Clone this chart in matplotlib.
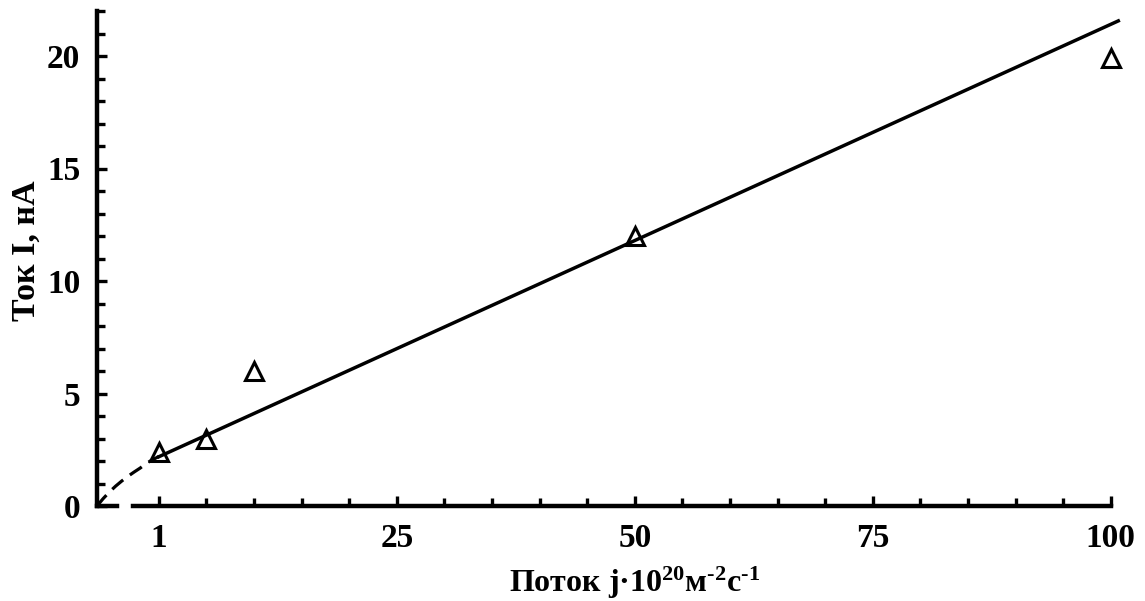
import numpy as np
import matplotlib
matplotlib.use("Agg")
import matplotlib.pyplot as plt
from matplotlib.ticker import FixedLocator

plt.rcParams['font.family'] = ['Liberation Serif', 'DejaVu Serif']
plt.rcParams['font.weight'] = 'bold'
plt.rcParams['mathtext.fontset'] = 'custom'
plt.rcParams['mathtext.rm'] = 'Liberation Serif:bold'
plt.rcParams['mathtext.default'] = 'rm'

# Measured points: flux j (10^20 m^-2 s^-1) and current I (nA)
flux = [1, 5, 10, 50, 100]
current = [2.4, 3.0, 6.0, 12.0, 19.9]

# Linear fit drawn from j = 1 onward
fit_flux = [1, 100.8]
fit_current = [2.19, 21.56]

# Extrapolation towards the origin (dashed)
extrap_flux = [0.0, 0.1, 0.2, 0.3, 0.4, 0.5, 0.6, 0.7, 0.8, 0.9, 1.0]
extrap_current = [0.0, 0.33, 0.62, 0.88, 1.11, 1.32, 1.51, 1.69, 1.90, 2.06, 2.2]

x_major = [1, 25, 50, 75, 100]
x_minor = [5, 10, 15, 20, 30, 35, 40, 45, 55, 60, 65, 70, 80, 85, 90, 95]
y_major = [0, 5, 10, 15, 20]
y_minor = [v for v in range(0, 23) if v % 5 != 0]

# The axis is broken between 0 and 1: j = 1 sits at the first tick.
BREAK_KNOTS_J = [0, 1, 5, 1000]
BREAK_KNOTS_X = [-6.5, 0, 5, 1000]


def axis_x(j):
    return np.interp(np.asarray(j, dtype=float), BREAK_KNOTS_J, BREAK_KNOTS_X)


fig = plt.figure(figsize=(11.45, 6.01), dpi=100)
ax = fig.add_axes([97 / 1145, 95 / 601, 1021.3 / 1145, 495 / 601])

ax.plot(axis_x(extrap_flux), extrap_current, color='black', lw=2.3,
        dashes=(4.5, 2.6), solid_capstyle='butt', clip_on=False)
ax.plot(axis_x(fit_flux), fit_current, color='black', lw=2.5, clip_on=False)
ax.plot(axis_x(flux), current, linestyle='none', marker='^', ms=12.5,
        mfc='none', mec='black', mew=2.2, clip_on=False)

ax.set_xlim(axis_x(0), axis_x(100.8))
ax.set_ylim(0, 22)

for side in ('top', 'right'):
    ax.spines[side].set_visible(False)
for side in ('left', 'bottom'):
    ax.spines[side].set_linewidth(3.2)
    ax.spines[side].set_capstyle('projecting')
ax.spines['bottom'].set_bounds(-2.7, 100)
ax.spines['left'].set_bounds(0, 22)
# short stub of the x axis left of the break
ax.plot([axis_x(0), -4.4], [0, 0], color='black', lw=3.2,
        solid_capstyle='projecting', clip_on=False)

ax.xaxis.set_major_locator(FixedLocator(axis_x(x_major)))
ax.xaxis.set_minor_locator(FixedLocator(axis_x(x_minor)))
ax.set_xticklabels([str(v) for v in x_major])
ax.yaxis.set_major_locator(FixedLocator(y_major))
ax.yaxis.set_minor_locator(FixedLocator(y_minor))
ax.set_yticklabels([str(v) for v in y_major])

ax.tick_params(which='both', direction='in', width=2.4, colors='black')
ax.tick_params(which='major', length=7)
ax.tick_params(which='minor', length=5.5)
ax.tick_params(axis='x', which='major', pad=12, labelsize=24)
ax.tick_params(axis='y', which='major', pad=12, labelsize=24)
for lbl in ax.get_xticklabels() + ax.get_yticklabels():
    lbl.set_fontweight('bold')

fig.text(635 / 1145, (601 - 592) / 601,
         'Поток j·10$^{20}$м$^{\u2010 2}$с$^{\u2010 1}$',
         ha='center', va='baseline', fontsize=23, fontweight='bold')
fig.text(26 / 1145, (601 - 251) / 601, 'Ток I, нА', rotation=90,
         ha='center', va='center', fontsize=24.5, fontweight='bold')

fig.savefig('out.png', dpi=100, facecolor='white')
